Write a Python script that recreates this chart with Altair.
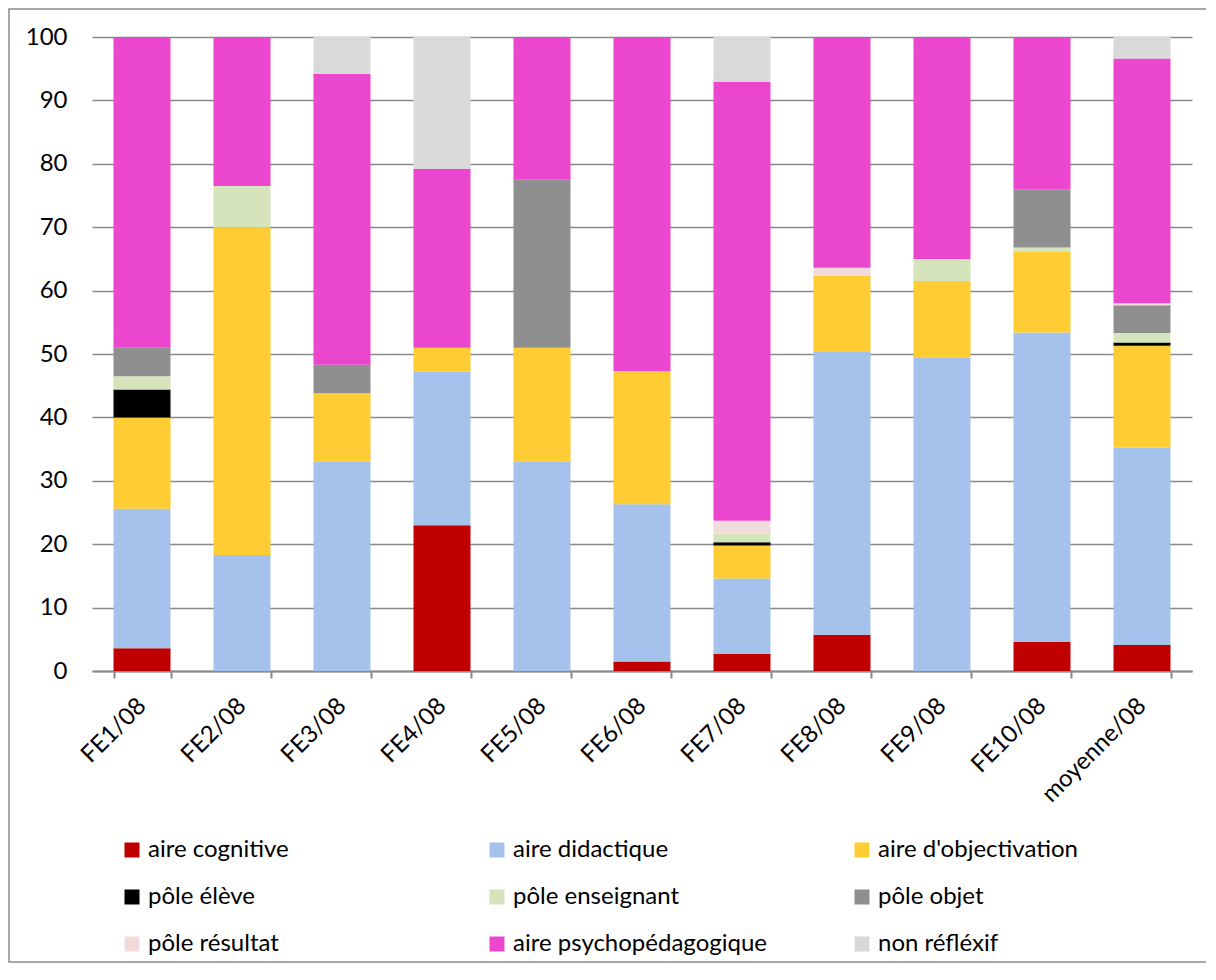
import altair as alt
import pandas as pd

categories = ["FE1/08", "FE2/08", "FE3/08", "FE4/08", "FE5/08", "FE6/08",
              "FE7/08", "FE8/08", "FE9/08", "FE10/08", "moyenne/08"]

series_names = ["aire cognitive", "aire didactique", "aire d'objectivation",
                "pôle élève", "pôle enseignant", "pôle objet",
                "pôle résultat", "aire psychopédagogique", "non réfléxif"]

aire_cognitive = [3.6, 0, 0, 23.0, 0, 1.5, 2.7, 5.7, 0, 4.6, 4.1]
aire_didactique = [22.0, 18.3, 33.0, 24.2, 33.0, 24.8, 11.9, 44.6, 49.4, 48.8, 31.1]
aire_objectivation = [14.4, 51.7, 10.8, 3.8, 18.0, 21.0, 5.2, 12.0, 12.1, 12.7, 16.1]
pole_eleve = [4.4, 0, 0, 0, 0, 0, 0.5, 0, 0, 0, 0.5]
pole_enseignant = [2.1, 6.5, 0, 0, 0, 0, 1.4, 0, 3.5, 0.7, 1.5]
pole_objet = [4.5, 0, 4.5, 0, 26.5, 0, 0, 0, 0, 9.2, 4.4]
pole_resultat = [0, 0, 0, 0, 0, 0, 2.0, 1.3, 0, 0, 0.3]
aire_psychopedagogique = [49.0, 23.5, 45.9, 28.2, 22.5, 52.7, 69.2, 36.4, 35.0, 24.0, 38.6]
non_reflexif = [0, 0, 5.8, 20.8, 0, 0, 7.1, 0, 0, 0, 3.4]

series_values = [aire_cognitive, aire_didactique, aire_objectivation,
                 pole_eleve, pole_enseignant, pole_objet,
                 pole_resultat, aire_psychopedagogique, non_reflexif]

series_colors = ["#C00000", "#A4C2EC", "#FFCC33",
                 "#000000", "#D5E4BB", "#8F8F8F",
                 "#F2DCDB", "#EA46CE", "#D9D9D9"]

y_ticks = [0, 10, 20, 30, 40, 50, 60, 70, 80, 90, 100]

rows = []
for si, (name, vals) in enumerate(zip(series_names, series_values)):
    for cat, v in zip(categories, vals):
        rows.append({"categorie": cat, "serie": name, "ordre": si, "valeur": v})
df = pd.DataFrame(rows)

FONT = "Lato"

bars = alt.Chart(df).mark_bar(strokeWidth=0).encode(
    x=alt.X("categorie:N", sort=categories, title=None,
            scale=alt.Scale(paddingInner=0.43, paddingOuter=0.215),
            axis=alt.Axis(labelAngle=315, labelAlign="right", labelBaseline="middle",
                          labelPadding=24, tickBand="extent", tickSize=7,
                          tickColor="#898989", tickWidth=2, labelLimit=300,
                          labelFont=FONT, labelFontSize=24, labelColor="#000000",
                          domainColor="#898989", domainWidth=2, grid=False)),
    y=alt.Y("valeur:Q", stack="zero", title=None,
            scale=alt.Scale(domain=[0, 100], nice=False),
            axis=alt.Axis(values=y_ticks, tickSize=0, domain=False, labelPadding=25,
                          labelFont=FONT, labelFontSize=24, labelColor="#000000",
                          grid=True, gridColor="#898989", gridWidth=1.5)),
    color=alt.Color("serie:N", sort=series_names,
                    scale=alt.Scale(domain=series_names, range=series_colors),
                    legend=alt.Legend(title=None, orient="none", legendX=28, legendY=801,
                                      direction="horizontal",
                                      columns=3, gridAlign="all", columnPadding=83,
                                      rowPadding=23, symbolType="square", symbolSize=225,
                                      symbolStrokeWidth=0, labelFontSize=24,
                                      labelLimit=400, labelOffset=4,
                                      labelFont=FONT, labelColor="#000000")),
    order=alt.Order("ordre:Q", sort="ascending"),
)

frame = alt.Chart(pd.DataFrame({"f": [0]})).mark_rect(
    fillOpacity=0, stroke="#898989", strokeWidth=1.5
).encode(
    x=alt.value(-83), x2=alt.value(1115), y=alt.value(-28), y2=alt.value(925)
)

chart = alt.layer(bars, frame).properties(
    width=1100, height=634,
    autosize=alt.AutoSizeParams(type="none"),
    padding={"left": 84, "top": 29, "right": 14, "bottom": 292},
).configure_view(stroke=None)

chart.save("out.html", embed_options={"renderer": "svg", "actions": False})
